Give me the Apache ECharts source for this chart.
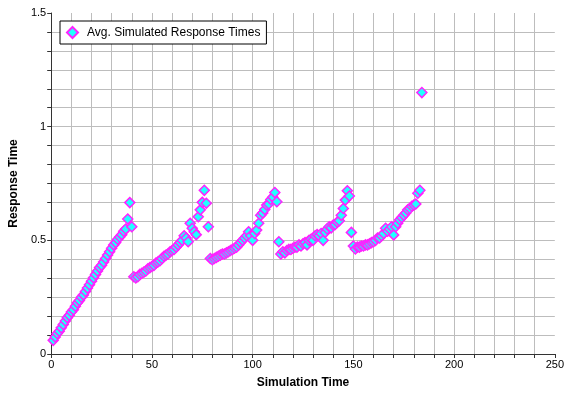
<!DOCTYPE html>
<html>
<head>
<meta charset="utf-8">
<script src="https://cdn.jsdelivr.net/npm/echarts@6/dist/echarts.min.js"></script>
<style>html,body{margin:0;padding:0;background:#fff;}#c{width:567px;height:394px;}</style>
</head>
<body>
<div id="c"></div>
<script>
// Simulation times (x) and average simulated response times (y)
var times1 = [1,2,3,4,5,6,7,8,9,10,11,12,13,14,15,16,17,18,19,20,21,22,23,24,25,26,27,28,29,30,31,32,33,34,35,36,37,38,39,40];
var resp1  = [0.06,0.075,0.09,0.10,0.115,0.13,0.145,0.16,0.17,0.185,0.195,0.21,0.225,0.235,0.25,0.26,0.275,0.29,0.305,0.32,0.335,0.35,0.365,0.38,0.39,0.405,0.42,0.435,0.45,0.465,0.48,0.49,0.505,0.515,0.525,0.54,0.55,0.594,0.666,0.56];

var times2 = [41,42,43,44,45,46,47,48,49,50,51,52,53,54,55,56,57,58,59,60,61,62,63,64,65,66,67,68,69,70,71,72,73,74,75,76,77,78];
var resp2  = [0.34,0.335,0.34,0.35,0.355,0.36,0.365,0.375,0.38,0.385,0.39,0.40,0.405,0.41,0.42,0.43,0.435,0.44,0.45,0.455,0.46,0.47,0.48,0.49,0.50,0.52,0.51,0.494,0.575,0.553,0.538,0.525,0.604,0.634,0.667,0.72,0.663,0.56];

var times3 = [79,80,81,82,83,84,85,86,87,88,89,90,91,92,93,94,95,96,97,98,99,100,101,102,103,104,105,106,107,108,109,110,111,112,113];
var resp3  = [0.42,0.415,0.42,0.425,0.43,0.435,0.44,0.44,0.445,0.45,0.455,0.46,0.465,0.47,0.48,0.49,0.50,0.51,0.52,0.538,0.52,0.50,0.53,0.545,0.575,0.61,0.62,0.636,0.655,0.66,0.68,0.69,0.71,0.67,0.494];

var times4 = [114,115,116,117,118,119,120,121,122,123,124,125,126,127,128,129,130,131,132,133,134,135,136,137,138,139,140,141,142,143,144,145,146,147,148,149];
var resp4  = [0.44,0.45,0.445,0.455,0.46,0.46,0.465,0.47,0.47,0.48,0.475,0.485,0.49,0.48,0.50,0.505,0.50,0.52,0.525,0.52,0.53,0.50,0.535,0.55,0.56,0.555,0.567,0.57,0.58,0.586,0.61,0.64,0.677,0.718,0.695,0.535];

var times5 = [150,151,152,153,154,155,156,157,158,159,160,161,162,163,164,165,166,167,168,169,170,171,172,173,174,175,176,177,178,179,180,181,182,183,184];
var resp5  = [0.475,0.462,0.47,0.47,0.475,0.475,0.48,0.48,0.485,0.49,0.494,0.50,0.51,0.51,0.52,0.53,0.553,0.54,0.55,0.56,0.524,0.56,0.575,0.59,0.60,0.61,0.62,0.634,0.64,0.65,0.655,0.66,0.707,0.72,1.15];

var xTicks = [0,50,100,150,200,250];
var yTicks = [0,0.5,1,1.5];
var seriesName = 'Avg. Simulated Response Times';

var allTimes = [].concat(times1, times2, times3, times4, times5);
var allResp = [].concat(resp1, resp2, resp3, resp4, resp5);
var points = allTimes.map(function (t, i) { return [t, allResp[i]]; });

var chart = echarts.init(document.getElementById('c'), null, {renderer: 'canvas'});
var font = 'Liberation Sans, Arial, sans-serif';
var gridColor = '#bdbdbd';
var axisColor = '#333333';
chart.setOption({
  animation: false,
  backgroundColor: '#ffffff',
  grid: {left: 50, right: 12, top: 13, bottom: 40, containLabel: false},
  legend: {
    left: 60, top: 21,
    data: [seriesName],
    orient: 'vertical',
    borderColor: '#000', borderWidth: 1,
    padding: [5, 6, 5, 6],
    itemWidth: 11, itemHeight: 11, itemGap: 0,
    backgroundColor: '#fff',
    textStyle: {fontFamily: font, fontSize: 12, color: '#000', padding: [0, 0, 0, 4]}
  },
  xAxis: {
    type: 'value', min: 0, max: 250, interval: 50,
    name: 'Simulation Time', nameLocation: 'middle', nameGap: 23,
    nameTextStyle: {fontFamily: font, fontSize: 12, fontWeight: 'bold', color: '#000'},
    axisLine: {show: true, onZero: false, lineStyle: {color: axisColor, width: 1}},
    axisTick: {show: true, inside: false, length: 4, lineStyle: {color: axisColor}},
    minorTick: {show: true, splitNumber: 5, length: 4, lineStyle: {color: axisColor}},
    axisLabel: {fontFamily: font, fontSize: 11, color: '#000', margin: 5,
      formatter: function (v) { return xTicks.indexOf(v) >= 0 ? String(v) : ''; }},
    splitLine: {show: true, showMaxLine: false, lineStyle: {color: gridColor, width: 1}},
    minorSplitLine: {show: true, lineStyle: {color: gridColor, width: 1}}
  },
  yAxis: {
    type: 'value', min: 0, max: 1.5, interval: 0.5,
    name: 'Response Time', nameLocation: 'middle', nameGap: 26, nameRotate: 90,
    nameTextStyle: {fontFamily: font, fontSize: 12, fontWeight: 'bold', color: '#000'},
    axisLine: {show: true, onZero: false, lineStyle: {color: axisColor, width: 1}},
    axisTick: {show: true, inside: false, length: 4, lineStyle: {color: axisColor}},
    minorTick: {show: true, splitNumber: 6, length: 4, lineStyle: {color: axisColor}},
    axisLabel: {fontFamily: font, fontSize: 11, color: '#000', margin: 5,
      formatter: function (v) { return yTicks.indexOf(v) >= 0 ? String(v) : ''; }},
    splitLine: {show: true, showMaxLine: false, lineStyle: {color: gridColor, width: 1}},
    minorSplitLine: {show: true, lineStyle: {color: gridColor, width: 1}}
  },
  series: [{
    name: seriesName,
    type: 'scatter',
    symbol: 'diamond',
    symbolSize: 10,
    itemStyle: {color: '#22ffff', borderColor: '#ff22ff', borderWidth: 1.5, opacity: 1},
    data: points
  }]
});
</script>
</body>
</html>
